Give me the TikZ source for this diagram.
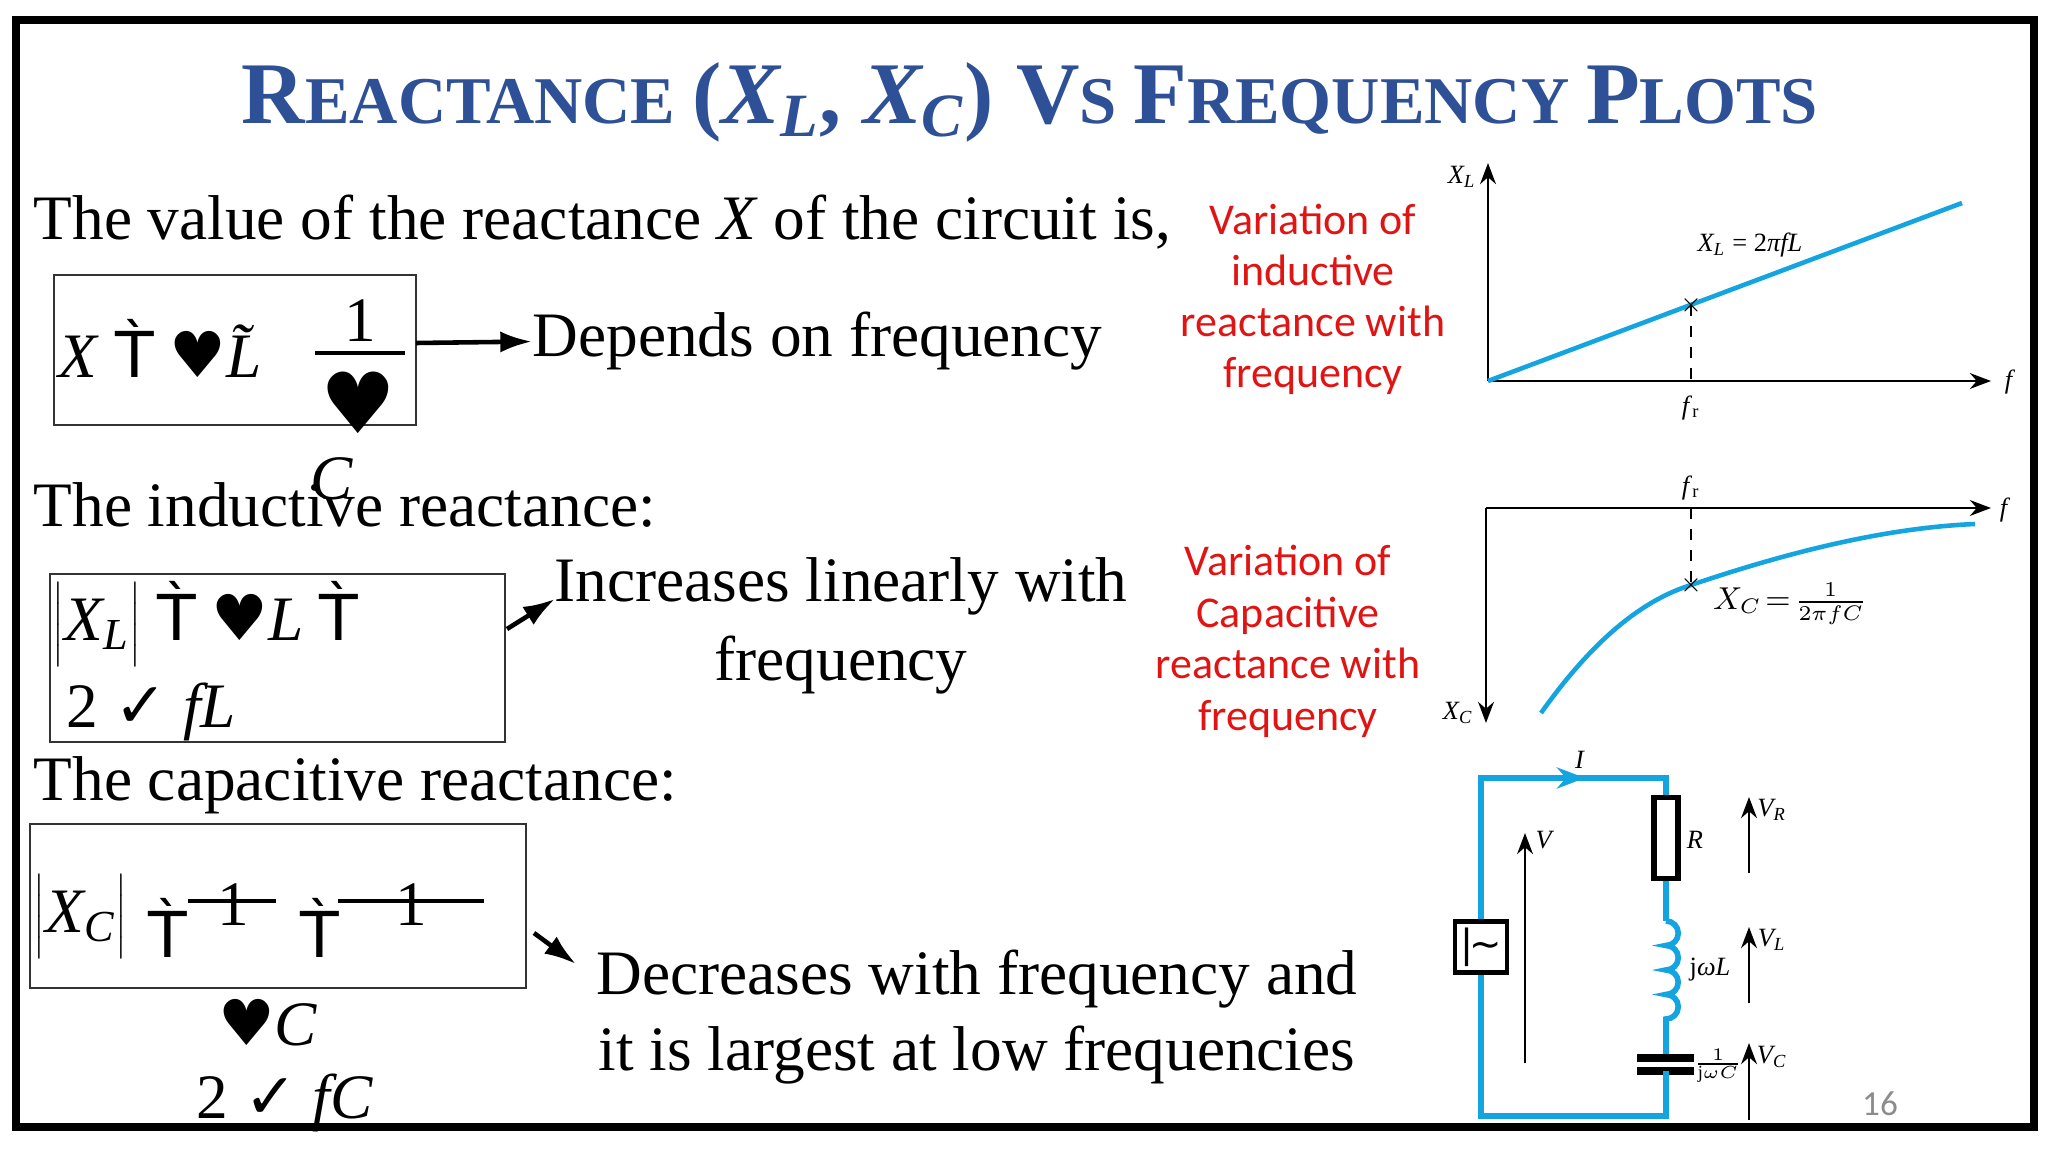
\documentclass[tikz,border=0pt]{standalone}
\usepackage{fontspec}
\setmainfont{Liberation Serif}
\newfontfamily\dv{DejaVu Sans}
\newfontfamily\cb{Carlito}
\usetikzlibrary{arrows.meta,decorations.markings}
\definecolor{ttl}{RGB}{46,80,150}
\definecolor{cy}{RGB}{20,165,225}
\definecolor{rd}{RGB}{225,20,20}
\newcommand{\tg}{{\dv\`{T}}}
\newcommand{\hrt}{{\dv ♥}}
\newcommand{\ck}{{\dv ✓}}
\newcommand{\ttbig}{\fontsize{25}{30}\selectfont}
\newcommand{\ttsml}{\fontsize{19}{23}\selectfont}
\begin{document}
\begin{tikzpicture}[x=0.01cm,y=-0.01cm,
  body/.style={inner sep=0,font=\fontsize{18}{22}\selectfont},
  red/.style={inner sep=0,text=rd,anchor=base,font=\cb\fontsize{12.5}{15}\selectfont},
  fbox/.style={draw=black!80,line width=0.8pt},
  arr/.style={-{Latex[length=9pt,width=6pt]},line width=1.3pt},
  ax/.style={-{Stealth[length=6pt]},line width=0.7pt},
  sm/.style={inner sep=0,font=\fontsize{7.5}{9}\selectfont},
  wire/.style={cy,line width=1.6pt}]
\useasboundingbox (0,0) rectangle (2048,1152);
\draw[line width=2.5pt] (16,20) rectangle (2034,1127);
\node[inner sep=0,text=ttl,font=\bfseries] (title) at (1030,102)
 {\ttbig R\ttsml EACTANCE \ttbig(\textit{X\textsubscript{L}}, \textit{X\textsubscript{C}}) V\ttsml S \ttbig F\ttsml REQUENCY \ttbig P\ttsml LOTS};
% left text
\node[body,anchor=base west] (t1) at (33,240) {The value of the reactance \textit{X} of the circuit is,};
\draw[fbox] (54,275) rectangle (416,425);
\node[body,anchor=base west] (f1) at (58,378) {\textit{X} \tg\ \hrt\textit{\~L}};
\draw[line width=1.2pt] (315,353) -- (405,353);
\node[body,anchor=base] (f1n) at (360,342) {1};
\node[body,font=\dv\fontsize{24}{30}\selectfont] (f1h) at (358,403) {♥};
\node[body,anchor=base] (f1c) at (332,500) {\textit{C}};
\coordinate (b1) at (416,343);
\node[body,anchor=base west] (dep) at (532,357) {Depends on frequency};
\draw[arr] (b1) -- (dep.west);
\node[body,anchor=base west] (t2) at (33,527) {The inductive reactance:};
\draw[fbox] (50,574) rectangle (505,742);
\node[body,anchor=base west] (f2a) at (52,640) {$\left|\mathit{X}_{\mathit{L}}\vphantom{X_L^M}\right|$ \tg\ \hrt\textit{L} \tg};
\node[body,anchor=base west] (f2b) at (66,727) {2 \ck\ \textit{fL}};
\coordinate (b2) at (507,629);
\node[body,anchor=base] (inc1) at (841,602) {Increases linearly with};
\node[body,anchor=base] (inc2) at (841,680) {frequency};
\draw[arr] (b2) -- (555,599);
\node[body,anchor=base west] (t3) at (33,800) {The capacitive reactance:};
\draw[fbox] (30,824) rectangle (526,988);
\node[body,anchor=base west] (f3a) at (33,932) {$\left|\mathit{X}_{\mathit{C}}\vphantom{X_L^M}\right|$};
\node[body,anchor=base] (f3t1) at (168,957) {\tg};
\node[body,anchor=base] (f3t2) at (320,957) {\tg};
\draw[line width=1.2pt] (188,901) -- (276,901) (338,901) -- (484,901);
\node[body,anchor=base] (f3o1) at (233,925) {1};
\node[body,anchor=base] (f3o2) at (411,925) {1};
\node[body,anchor=base] (f3c) at (268,1045) {\hrt\textit{C}};
\node[body,anchor=base] (f3d) at (285,1118) {2 \ck\ \textit{fC}};
\coordinate (b3) at (534,933);
\node[body,anchor=base] (dec1) at (977,994) {Decreases with frequency and};
\node[body,anchor=base] (dec2) at (977,1070) {it is largest at low frequencies};
\draw[arr] (b3) -- (576,964);
% red
\node[red] (r1a) at (1313,235) {Variation of};
\node[red] (r1b) at (1313,286) {inductive};
\node[red] (r1c) at (1313,337) {reactance with};
\node[red] (r1d) at (1313,388) {frequency};
\node[red] (r2a) at (1288,575) {Variation of};
\node[red] (r2b) at (1288,627) {Capacitive};
\node[red] (r2c) at (1288,679) {reactance with};
\node[red] (r2d) at (1288,730) {frequency};
% graph 1
\coordinate (o1) at (1488,381);
\draw[ax] (o1) -- (1488,163);
\draw[ax] (o1) -- (1991,381);
\node[sm] (xl) at (1462,177) {\textit{X\textsubscript{L}}};
\node[sm] (f1l) at (2010,382) {\textit{f}};
\draw[cy,line width=1.3pt] (o1) -- (1962,203);
\draw[dashed,line width=0.6pt] (1691,305) -- (1691,381);
\node[sm] (x1) at (1691,305) {$\times$};
\node[sm] (fr1) at (1691,408) {\textit{f}\textsubscript{r}};
\node[sm] (eq1) at (1750,245) {\textit{X\textsubscript{L}} = 2\textit{πfL}};
% graph 2
\coordinate (o2) at (1486,508);
\draw[ax] (o2) -- (1991,508);
\draw[ax] (o2) -- (1486,723);
\node[sm] (f2l) at (2005,510) {\textit{f}};
\node[sm] (xc) at (1458,713) {\textit{X\textsubscript{C}}};
\node[sm] (fr2) at (1691,488) {\textit{f}\textsubscript{r}};
\draw[dashed,line width=0.6pt] (1691,508) -- (1691,585);
\draw[cy,line width=1.3pt] (1541,713) .. controls (1600,630) and (1650,598) .. (1691,585) .. controls (1780,555) and (1880,528) .. (1975,524);
\node[sm] (x2) at (1691,585) {$\times$};
\node[sm,font=\fontsize{9}{10}\selectfont] (eq2) at (1790,604) {$X_C\!=\!\frac{1}{2\pi fC}$};
% circuit
\node[draw,line width=1.3pt,minimum width=0.52cm,minimum height=0.51cm,inner sep=0,font=\dv\fontsize{11}{11}\selectfont] (src) at (1481,947) {|\kern-1pt∼};
\node[draw,line width=1.6pt,minimum width=0.24cm,minimum height=0.81cm,inner sep=0] (res) at (1666,838) {};
\draw[wire] (src.north) -- (1481,778) -- (1666,778) -- (res.north);
\draw[wire,-{Stealth[length=8pt]}] (1481,778) -- (1585,778);
\draw[wire] (res.south) -- (1666,921);
\draw[wire] (1666,921) arc (-90:90:12.25) arc (-90:90:12.25) arc (-90:90:12.25) arc (-90:90:12.25) -- (1666,1058);
\draw[line width=2pt] (1637,1058) -- (1694,1058) (1637,1071) -- (1694,1071);
\draw[wire] (1666,1071) -- (1666,1116) -- (1481,1116) -- (src.south);
\node[sm] (il) at (1580,760) {\textit{I}};
\node[sm] (rl) at (1695,840) {\textit{R}};
\node[sm] (ll) at (1710,970) {j\textit{ωL}};
\node[sm] (cl) at (1718,1066) {$\frac{1}{\mathrm{j}\omega C}$};
\draw[ax] (1525,1063) -- (1525,833);
\node[sm] (vl0) at (1545,840) {\textit{V}};
\draw[ax] (1749,873) -- (1749,797);
\draw[ax] (1749,1003) -- (1749,927);
\draw[ax] (1749,1120) -- (1749,1043);
\node[sm] (vr) at (1772,810) {\textit{V\textsubscript{R}}};
\node[sm] (vlx) at (1772,940) {\textit{V\textsubscript{L}}};
\node[sm] (vc) at (1772,1057) {\textit{V\textsubscript{C}}};
\node[inner sep=0,text=black!45,font=\cb\fontsize{10}{12}\selectfont] (pg) at (1880,1104) {16};
\end{tikzpicture}
\end{document}
